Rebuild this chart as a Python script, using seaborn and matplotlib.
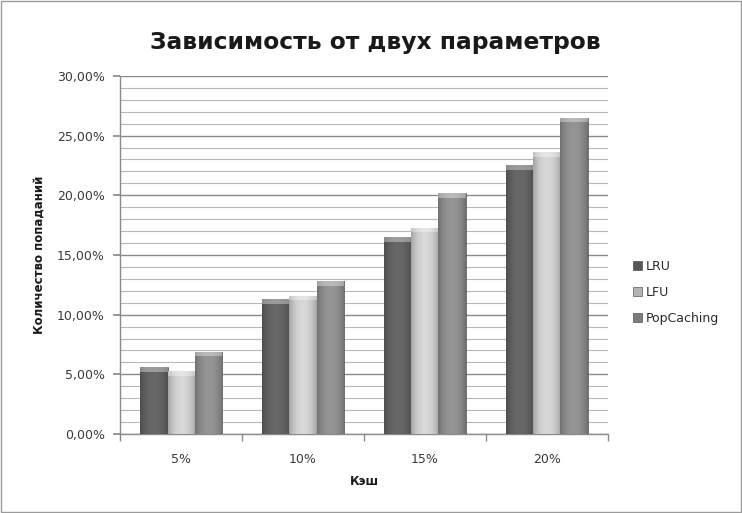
import numpy as np
import pandas as pd
import matplotlib
matplotlib.use("Agg")
import matplotlib.pyplot as plt
import seaborn as sns
from matplotlib.ticker import FuncFormatter, MultipleLocator
from matplotlib.patches import Rectangle

categories = ["5%", "10%", "15%", "20%"]
series = ["LRU", "LFU", "PopCaching"]
lru = [0.056, 0.113, 0.165, 0.225]
lfu = [0.053, 0.116, 0.173, 0.236]
pop = [0.069, 0.128, 0.202, 0.265]
title = "Зависимость от двух параметров"
ylabel = "Количество попаданий"
xlabel = "Кэш"

df = pd.DataFrame({
    "cache": categories * 3,
    "series": ["LRU"] * 4 + ["LFU"] * 4 + ["PopCaching"] * 4,
    "value": lru + lfu + pop,
})

sns.set_theme(style="white")
plt.rcParams["font.family"] = ["DejaVu Sans"]

colors = {"LRU": "#565656", "LFU": "#b4b4b4", "PopCaching": "#7c7c7c"}

fig = plt.figure(figsize=(7.42, 5.13), dpi=100)
fig.patch.set_facecolor("white")
ax = fig.add_axes([0.162, 0.154, 0.657, 0.698])

sns.barplot(data=df, x="cache", y="value", hue="series", hue_order=series,
            order=categories, palette=colors, width=0.67, ax=ax,
            edgecolor="#3a3a3a", linewidth=0.4, legend=True, zorder=3)

# cylinder-like shading on each bar
grad = np.linspace(0, 1, 64)
shade = 0.55 + 0.45 * np.sin(np.pi * (grad * 0.9 + 0.05)) ** 0.6
for cont, s in zip(ax.containers, series):
    base = np.array(matplotlib.colors.to_rgb(colors[s]))
    img = np.clip(base[None, :] * (0.75 + 0.45 * (shade[:, None] - 0.55) / 0.45), 0, 1)
    img = img[None, :, :]
    for p in cont.patches:
        x0, y0 = p.get_x(), p.get_y()
        w, h = p.get_width(), p.get_height()
        im = ax.imshow(img, extent=[x0, x0 + w, y0, y0 + h], aspect="auto",
                       zorder=3.5, interpolation="bicubic")
        im.set_clip_path(p)
        cap = Rectangle((x0, y0 + h - 0.004), w, 0.004, facecolor="white",
                        alpha=0.35, edgecolor="none", zorder=4)
        ax.add_patch(cap)

ax.set_ylim(0, 0.30)
ax.set_xlim(-0.5, 3.5)
ax.yaxis.set_major_locator(MultipleLocator(0.05))
ax.yaxis.set_minor_locator(MultipleLocator(0.01))
ax.yaxis.set_major_formatter(FuncFormatter(lambda v, p: f"{v*100:.2f}%".replace(".", ",")))
ax.grid(axis="y", which="major", color="#8a8a8a", linewidth=1.0, zorder=0)
ax.grid(axis="y", which="minor", color="#b8b8b8", linewidth=0.8, zorder=0)
ax.set_axisbelow(True)

for side in ["top", "right"]:
    ax.spines[side].set_visible(False)
for side in ["left", "bottom"]:
    ax.spines[side].set_color("#8a8a8a")
    ax.spines[side].set_linewidth(1.0)

ax.tick_params(axis="y", which="major", left=True, length=5, color="#8a8a8a",
               labelsize=9, labelcolor="#3a3a3a", pad=6)
ax.tick_params(axis="y", which="minor", left=False)
ax.set_xticks([0, 1, 2, 3])
ax.set_xticklabels(categories)
ax.tick_params(axis="x", which="major", bottom=False, labelsize=9,
               labelcolor="#3a3a3a", pad=8)
ax.set_xticks([-0.5, 0.5, 1.5, 2.5, 3.5], minor=True)
ax.tick_params(axis="x", which="minor", bottom=True, length=5, color="#8a8a8a")

ax.set_ylabel(ylabel, fontsize=8.5, fontweight="bold", color="#1a1a1a", labelpad=8)
ax.set_xlabel(xlabel, fontsize=8.5, fontweight="bold", color="#1a1a1a", labelpad=6)

fig.text(0.506, 0.918, title, ha="center", va="center", fontsize=16.8,
         fontweight="bold", color="#1a1a1a")

ax.legend_.remove()
handles = [Rectangle((0, 0), 1, 1, facecolor=colors[s], edgecolor="#3a3a3a",
                     linewidth=0.4) for s in series]
fig.legend(handles, series, loc="center left", bbox_to_anchor=(0.838, 0.43),
           frameon=False, fontsize=9, handlelength=0.7, handleheight=0.7,
           handletextpad=0.3, labelspacing=1.05, labelcolor="#2a2a2a")

fig.add_artist(Rectangle((0.002, 0.002), 0.996, 0.996, transform=fig.transFigure,
                         fill=False, edgecolor="#9a9a9a", linewidth=1.0))

fig.savefig("out.png", dpi=100, facecolor="white")
